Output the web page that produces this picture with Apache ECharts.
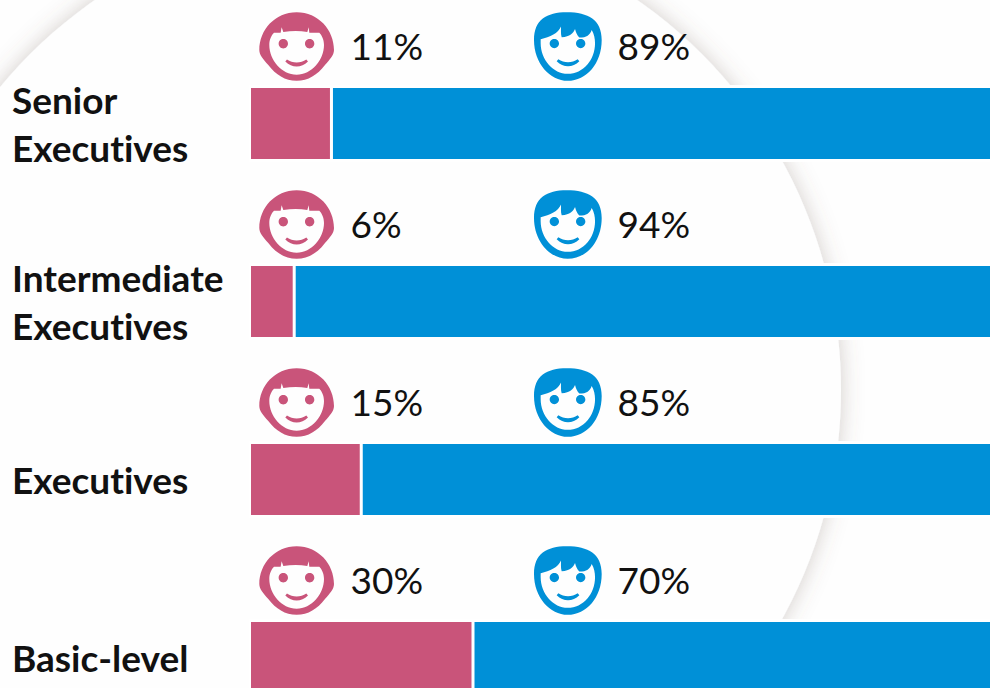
<!DOCTYPE html>
<html><head><meta charset="utf-8">
<style>html,body{margin:0;padding:0;background:#fff}#c{width:990px;height:688px}text{font-variant-ligatures:none}</style>
<script src="https://cdn.jsdelivr.net/npm/echarts@6/dist/echarts.min.js"></script></head>
<body><div id="c"></div>
<script>
const categories = ['Senior\nExecutives', 'Intermediate\nExecutives', 'Executives', 'Basic-level'];
const women = [11, 6, 15, 30];
const men = [89, 94, 85, 70];

const PINK = '#c9547a', BLUE = '#0090d7';
function circ(cx, cy, r) {
  const k = r * 0.5523;
  return `M${cx - r} ${cy}C${cx - r} ${cy - k} ${cx - k} ${cy - r} ${cx} ${cy - r}` +
    `C${cx + k} ${cy - r} ${cx + r} ${cy - k} ${cx + r} ${cy}` +
    `C${cx + r} ${cy + k} ${cx + k} ${cy + r} ${cx} ${cy + r}` +
    `C${cx - k} ${cy + r} ${cx - r} ${cy + k} ${cx - r} ${cy}Z`;
}
const girlPath =
  'M170 37C235 37 282 90 282 150C282 165 270 178 255 195C232 225 205 242 170 242C135 242 108 225 85 195C70 178 58 165 58 150C58 90 105 37 170 37Z' +
  'M88 135C88 180 125 224 170 224C215 224 252 180 252 135C252 118 245 105 238 98L208 98L206 82L202 96C180 92 155 92 130 96L125 82L122 98L102 98C95 105 88 118 88 135Z' +
  circ(130, 131, 14) + circ(209, 131, 14) +
  'M136 184L141 178C158 190 182 190 199 178L204 184C184 204 156 204 136 184Z';
const boyPath =
  'M140 37C205 37 245 60 245 120C245 190 200 243 143 243C90 243 42 190 42 120C42 60 80 37 140 37Z' +
  'M62 130C62 180 100 222 143 222C190 222 225 180 225 130C225 115 222 102 215 90C210 105 200 113 178 113C172 108 168 98 165 87C160 100 150 110 125 112C122 103 123 92 123 80C115 100 90 112 62 118Z' +
  circ(103, 131, 14) + circ(182, 131, 14) +
  'M110 184L115 178C132 190 156 190 173 178L178 184C158 204 130 204 110 184Z';

function faceSeries(values, path, color, faceLeft, faceW, textLeft) {
  return {
    type: 'custom',
    coordinateSystem: 'cartesian2d',
    silent: true,
    z: 5,
    data: values.map((v, i) => [0, i, v]),
    renderItem(params, api) {
      const yc = api.coord([0, api.value(1)])[1];
      const x0 = params.coordSys.x;
      return {
        type: 'group',
        children: [
          { type: 'path',
            shape: { pathData: path, x: x0 + faceLeft, y: yc - 111.2, width: faceW, height: 68.5, layout: 'cover' },
            style: { fill: color } },
          { type: 'text',
            style: { text: api.value(2) + '%', x: x0 + textLeft, y: yc - 78,
              fontFamily: 'Lato', fontSize: 37, fill: '#111', verticalAlign: 'middle', align: 'left' } }
        ]
      };
    }
  };
}

// White margin that keeps the background ring clear of each bar.
const haloSeries = {
  type: 'custom',
  coordinateSystem: 'cartesian2d',
  silent: true,
  z: 1,
  data: categories.map((c, i) => [0, i]),
  renderItem(params, api) {
    const yc = api.coord([0, api.value(1)])[1];
    return { type: 'rect',
      shape: { x: params.coordSys.x, y: yc - 38.5, width: params.coordSys.width, height: 77 },
      style: { fill: '#fff' } };
  }
};

const chart = echarts.init(document.getElementById('c'), null, { renderer: 'svg' });
chart.setOption({
  animation: false,
  backgroundColor: '#fefefe',
  grid: { left: 249.5, top: 34.5, width: 745, height: 712, outerBoundsMode: 'none' },
  xAxis: { type: 'value', min: 0, max: 100, show: false },
  yAxis: {
    type: 'category', inverse: true, data: categories,
    axisLine: { show: false }, axisTick: { show: false }, splitLine: { show: false },
    axisLabel: { align: 'left', margin: 237.5, fontFamily: 'Lato', fontWeight: 'bold', fontSize: 37, lineHeight: 48, color: '#111' }
  },
  graphic: [{
    type: 'circle', z: 0, silent: true,
    shape: { cx: 366, cy: 390, r: 475 },
    style: { fill: '#fefefe', shadowBlur: 22, shadowColor: 'rgba(110,90,80,0.3)' }
  }],
  series: [
    haloSeries,
    { name: 'Women', type: 'bar', stack: 'a', barWidth: 74, data: women,
      itemStyle: { color: PINK, borderColor: '#fff', borderWidth: 1.5 } },
    { name: 'Men', type: 'bar', stack: 'a', barWidth: 74, data: men,
      itemStyle: { color: BLUE, borderColor: '#fff', borderWidth: 1.5 } },
    faceSeries(women, girlPath, PINK, 9.8, 74.7, 101),
    faceSeries(men, boyPath, BLUE, 284.5, 67.7, 368)
  ]
});
</script></body></html>
